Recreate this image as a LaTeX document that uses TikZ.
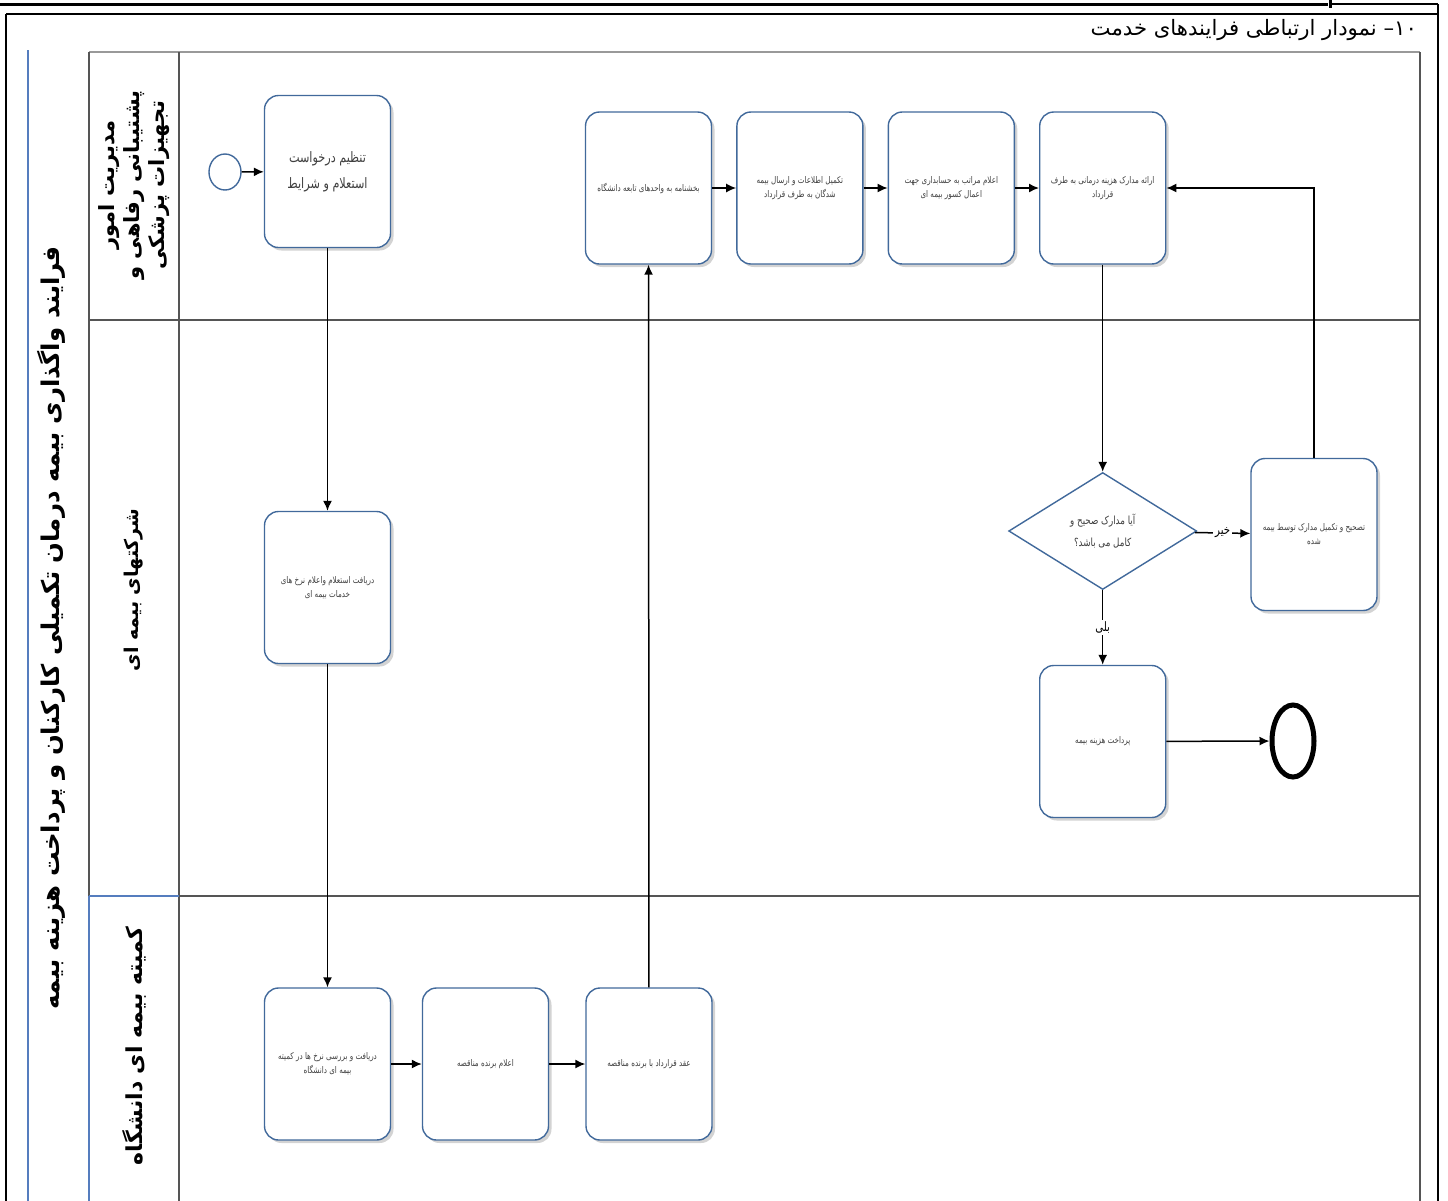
\documentclass[tikz,border=0pt]{standalone}
\usepackage{fontspec}
\newfontfamily\fa[Script=Arabic]{DejaVu Sans}
\newfontfamily\fan[Script=Arabic, FakeStretch=0.78]{DejaVu Sans}
\TeXXeTstate=1
\usetikzlibrary{positioning, shapes.geometric, arrows.meta, shadows}
\newcommand{\rl}[1]{\beginR #1\endR}
\definecolor{taskblue}{RGB}{65,105,155}
\definecolor{lanegray}{RGB}{85,85,85}
\definecolor{poolblue}{RGB}{85,125,190}

\tikzset{
  task/.style={draw=taskblue, line width=0.7pt, rounded corners=7pt, fill=white,
    minimum width=63pt, minimum height=76pt, inner xsep=2pt, align=center, text=black!75,
    font=\fan\fontsize{4.6}{7}\selectfont,
    drop shadow={shadow xshift=1.5pt, shadow yshift=-1.5pt, opacity=0.35}},
  lanelabel/.style={rotate=90, align=center, font=\fa\bfseries\fontsize{10.5}{12.5}\selectfont},
  flow/.style={-{Latex[length=5pt, width=4.5pt]}, line width=0.75pt},
  answer/.style={fill=white, inner sep=1pt, font=\fan\fontsize{6.5}{7}\selectfont}
}

\begin{document}
\begin{tikzpicture}[x=0.5pt, y=-0.5pt]
\useasboundingbox (0,0) rectangle (1448,1201);

% frame and lanes
\draw[line width=1.5pt] (0,4) -- (1328,4) (1330,0) -- (1330,8);
\draw[line width=0.8pt] (1332,4) -- (1438,4);
\draw[line width=1.3pt] (6,14) -- (1438,14) (1438,4) -- (1438,1201) (6,14) -- (6,1201);
\draw[poolblue, line width=0.6pt] (28,50) -- (28,1201);
\draw[black!40, line width=0.9pt] (89,52) -- (1420,52);
\draw[lanegray, line width=0.7pt] (89,52) -- (89,896) (179,52) -- (179,1201)
  (1420,52) -- (1420,1201) (89,320) -- (1420,320) (179,896) -- (1420,896);
\draw[poolblue, line width=0.6pt] (89,896) -- (89,1201) (89,896) -- (179,896);

\node[anchor=east, font=\fa\fontsize{10.6}{12}\selectfont] (title) at (1424,30)
  {\rl{\beginL ۱۰\endL– نمودار ارتباطی فرایندهای خدمت}};

\node[lanelabel, font=\fa\bfseries\fontsize{12.2}{14}\selectfont] (pool) at (51,628)
  {\rl{فرایند واگذاری بیمه درمان تکمیلی کارکنان و پرداخت هزینه  بیمه}};
\node[lanelabel] (lane1) at (134,185) {\rl{مدیریت امور}\\\rl{پشتیبانی رفاهی و}\\\rl{تجهیزات پزشکی}};
\node[lanelabel, font=\fa\bfseries\fontsize{9.5}{12}\selectfont] (lane2) at (134,590) {\rl{شرکتهای بیمه ای}};
\node[lanelabel, font=\fa\bfseries\fontsize{11}{12}\selectfont] (lane3) at (134,1046) {\rl{کمیته بیمه ای دانشگاه}};

\node[ellipse, draw=taskblue, line width=0.7pt, minimum width=16pt, minimum height=18pt] (start) at (225,172) {};
\node[task, font=\fan\fontsize{7.2}{13}\selectfont] (a1) at (327.5,171.5) {\rl{تنظیم درخواست}\\\rl{استعلام و شرایط}};
\node[task] (a2) at (648.5,188) {\rl{بخشنامه به واحدهای تابعه دانشگاه}};
\node[task, right=12pt of a2] (a3) {\rl{تکمیل اطلاعات و ارسال بیمه}\\\rl{شدگان به طرف قرارداد}};
\node[task, right=12pt of a3] (a4) {\rl{اعلام مراتب به حسابداری جهت}\\\rl{اعمال کسور بیمه ای}};
\node[task, right=12pt of a4] (a5) {\rl{ارائه مدارک هزینه درمانی به طرف}\\\rl{قرارداد}};

\node[task] (b1) at (327.5,587.5) {\rl{دریافت استعلام واعلام نرخ های}\\\rl{خدمات بیمه ای}};
\node[diamond, draw=taskblue, line width=0.7pt, fill=white, minimum width=94pt, minimum height=58.5pt,
  inner sep=0pt, align=center, text=black!75, font=\fan\fontsize{5.6}{11}\selectfont] (dec) at (a5 |- 0,531)
  {\rl{آیا مدارک صحیح و}\\\rl{کامل می باشد؟}};
\node[task] (b2) at (1314,534.5) {\rl{تصحیح و تکمیل مدارک توسط بیمه}\\\rl{شده}};
\node[task] (b3) at (a5 |- 0,741.5) {\rl{پرداخت هزینه بیمه}};
\node[ellipse, draw=black, line width=2.5pt, minimum width=21pt, minimum height=36pt] (stop) at (1293,741) {};

\node[task] (c1) at (327.5,1064) {\rl{دریافت و بررسی نرخ ها در کمیته}\\\rl{بیمه ای دانشگاه}};
\node[task] (c2) at (485.5,1064) {\rl{اعلام برنده مناقصه}};
\node[task] (c3) at (649,1064) {\rl{عقد قرارداد با برنده مناقصه}};

\draw[flow] (start) -- (a1);
\draw[flow] (a1) -- (b1);
\draw[flow] (b1) -- (c1);
\draw[flow] (c1) -- (c2);
\draw[flow] (c2) -- (c3);
\draw[flow] (c3) -- (a2);
\draw[flow] (a2) -- (a3);
\draw[flow] (a3) -- (a4);
\draw[flow] (a4) -- (a5);
\draw[flow] (a5) -- (dec);
\draw[flow] (dec) -- node[answer] {\rl{خیر}} (b2);
\draw[flow] (b2.north) |- (a5.east);
\draw[flow] (dec) -- node[answer] {\rl{بلی}} (b3);
\draw[flow] (b3) -- (stop);

\end{tikzpicture}
\end{document}
